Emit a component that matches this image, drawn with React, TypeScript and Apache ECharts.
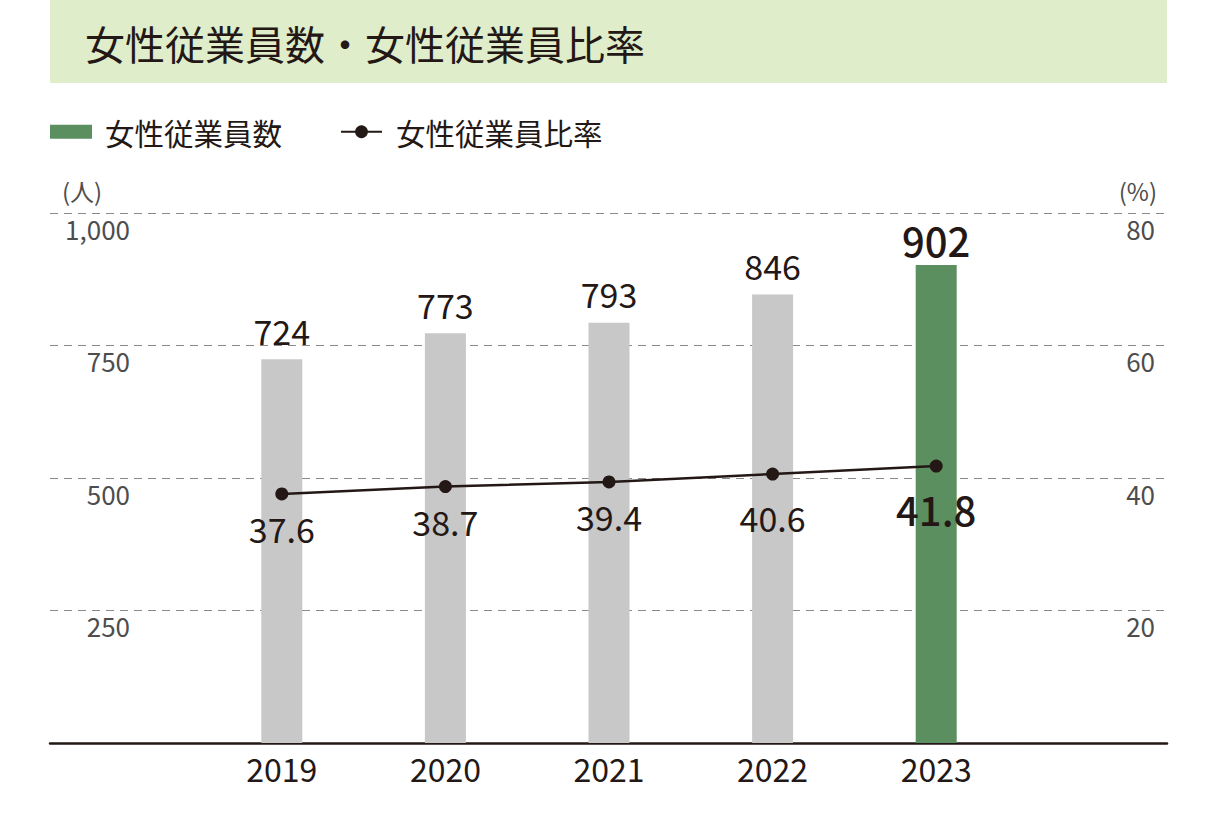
import React, { useEffect, useRef } from "react";
import * as echarts from "echarts";

const years = ["2019", "2020", "2021", "2022", "2023"];
const employees = [724, 773, 793, 846, 902];
const ratios = [37.6, 38.7, 39.4, 40.6, 41.8];
const ratioLabelGaps = [11, 11, 11, 20, 16];
const titleText = "女性従業員数・女性従業員比率";
const barName = "女性従業員数";
const lineName = "女性従業員比率";

const FONT = '"Noto Sans CJK JP", "Noto Sans", sans-serif';
const DARK = "#231815";
const GRAY_TXT = "#4d4d4d";
const GREEN = "#5b8f5f";
const BAR_GRAY = "#c8c8c8";

export default function App() {
  const ref = useRef<HTMLDivElement>(null);
  useEffect(() => {
    if (!ref.current) return;
    const chart = echarts.init(ref.current, undefined, { renderer: "svg" });
    const last = years.length - 1;
    const option: any = {
      animation: false,
      textStyle: { fontFamily: FONT },
      graphic: [
        {
          type: "rect",
          shape: { x: 50, y: 0, width: 1117, height: 83 },
          style: { fill: "#e0edca" },
          silent: true,
        },
        {
          type: "text",
          x: 85,
          y: 43,
          style: {
            text: titleText,
            fontSize: 40,
            fontFamily: FONT,
            fill: DARK,
            verticalAlign: "middle",
          },
        },
        {
          type: "text",
          x: 62,
          y: 190,
          style: { text: "(人)", fontSize: 24, fontFamily: FONT, fill: GRAY_TXT, verticalAlign: "middle" },
        },
        {
          type: "text",
          x: 1157,
          y: 190,
          style: { text: "(%)", fontSize: 24, fontFamily: FONT, fill: GRAY_TXT, verticalAlign: "middle", align: "right" },
        },
      ],
      legend: [
        {
          left: 50,
          top: 117,
          padding: 0,
          itemWidth: 42,
          itemHeight: 14,
          textStyle: { fontSize: 29.5, color: DARK, fontFamily: FONT, padding: [0, 0, 0, 8] },
          data: [{ name: barName, icon: "rect", itemStyle: { color: GREEN } }],
        },
        {
          left: 340,
          top: 117,
          padding: 0,
          itemWidth: 41,
          itemHeight: 16,
          textStyle: { fontSize: 29.5, color: DARK, fontFamily: FONT, padding: [0, 0, 0, 9] },
          data: [{ name: lineName }],
        },
      ],
      grid: [
        { left: 50, right: 48, top: 213, bottom: 85 },
        { left: 200, right: 197, top: 213, bottom: 85 },
      ],
      xAxis: [
        {
          gridIndex: 0,
          type: "value",
          min: 0,
          max: 1,
          axisLine: { show: true, lineStyle: { color: DARK, width: 2.5 } },
          axisTick: { show: false },
          axisLabel: { show: false },
          splitLine: { show: false },
        },
        {
          gridIndex: 1,
          type: "category",
          data: years,
          axisLine: { show: false },
          axisTick: { show: false },
          axisLabel: { fontSize: 32, color: DARK, margin: 9, fontFamily: FONT },
        },
      ],
      yAxis: [
        {
          gridIndex: 0,
          type: "value",
          min: 0,
          max: 1000,
          interval: 250,
          position: "left",
          axisLine: { show: false },
          axisTick: { show: false },
          splitLine: { show: true, lineStyle: { color: "#8a8a8a", type: [8, 6], width: 1.2 } },
          axisLabel: {
            inside: true,
            margin: 80,
            align: "right",
            verticalAlign: "top",
            padding: [2, 0, 0, 0],
            showMinLabel: false,
            fontSize: 26,
            color: GRAY_TXT,
            fontFamily: FONT,
            formatter: (v: number) => v.toLocaleString("en-US"),
          },
        },
        {
          gridIndex: 0,
          type: "value",
          min: 0,
          max: 80,
          interval: 20,
          position: "right",
          axisLine: { show: false },
          axisTick: { show: false },
          splitLine: { show: false },
          axisLabel: {
            inside: true,
            margin: 12,
            align: "right",
            verticalAlign: "top",
            padding: [2, 0, 0, 0],
            showMinLabel: false,
            fontSize: 26,
            color: GRAY_TXT,
            fontFamily: FONT,
          },
        },
        { gridIndex: 1, type: "value", min: 0, max: 1000, show: false, splitLine: { show: false } },
        { gridIndex: 1, type: "value", min: 0, max: 80, show: false, splitLine: { show: false } },
      ],
      series: [
        {
          name: barName,
          type: "bar",
          xAxisIndex: 1,
          yAxisIndex: 2,
          barWidth: 41,
          itemStyle: { color: GREEN },
          data: employees.map((v, i) => ({
            value: v,
            itemStyle: { color: i === last ? GREEN : BAR_GRAY },
            label:
              i === last
                ? { fontSize: 40, fontWeight: 500, distance: 5 }
                : { fontSize: 34, fontWeight: "normal", distance: 12 },
          })),
          label: { show: true, position: "top", color: DARK, fontFamily: FONT },
        },
        {
          name: lineName,
          type: "line",
          xAxisIndex: 1,
          yAxisIndex: 3,
          symbol: "circle",
          symbolSize: 13,
          lineStyle: { color: DARK, width: 2.5 },
          itemStyle: { color: DARK },
          data: ratios.map((v, i) => ({
            value: v,
            label:
              i === last
                ? { fontSize: 40, fontWeight: 500, distance: ratioLabelGaps[i] }
                : { fontSize: 34, fontWeight: "normal", distance: ratioLabelGaps[i] },
          })),
          label: {
            show: true,
            position: "bottom",
            color: DARK,
            fontFamily: FONT,
            formatter: (p: any) => Number(p.value).toFixed(1),
          },
          z: 5,
        },
      ],
    };
    chart.setOption(option);
    return () => chart.dispose();
  }, []);
  return (
    <div
      ref={ref}
      style={{ position: "absolute", left: 0, top: 0, width: 1215, height: 828 }}
    />
  );
}
